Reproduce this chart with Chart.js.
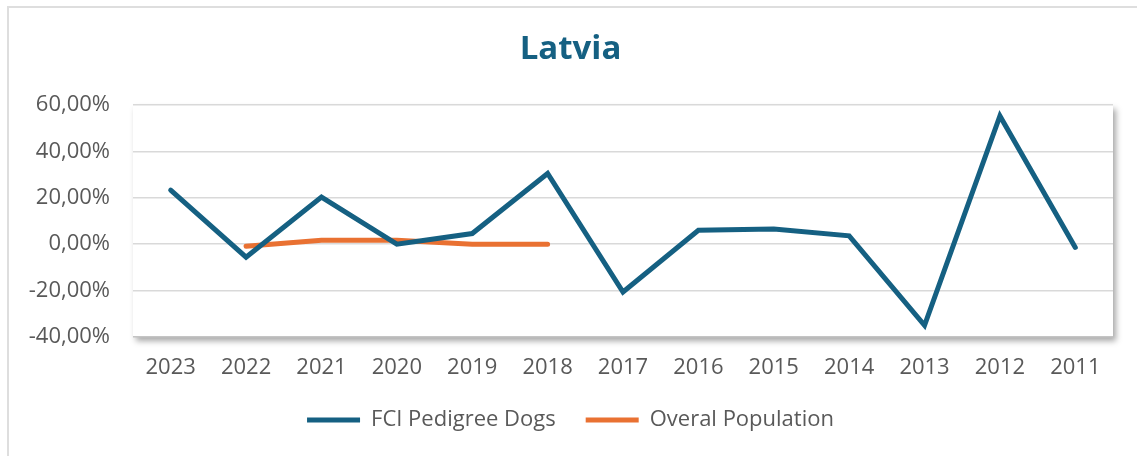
<!DOCTYPE html>
<html>
<head>
<meta charset="utf-8">
<script src="https://cdn.jsdelivr.net/npm/chart.js@4.4.1/dist/chart.umd.min.js"></script>
<style>
  html, body { margin: 0; padding: 0; background: #fff; }
  #frame { position: absolute; left: 7px; top: 6px; width: 1140px; height: 460px;
           border-left: 2px solid #dedede; border-top: 2px solid #dedede; }
  #wrap { position: absolute; left: 0; top: 0; width: 1137px; height: 456px; }
</style>
</head>
<body>
<div id="frame"></div>
<div id="wrap"><canvas id="myChart" width="1137" height="456"></canvas></div>
<script>
const years = ['2023', '2022', '2021', '2020', '2019', '2018', '2017', '2016', '2015', '2014', '2013', '2012', '2011']
const pedigreeDogs = [23.3, -5.6, 20.3, 0.0, 4.6, 30.5, -20.6, 6.0, 6.5, 3.6, -35.0, 55.3, -1.4]
const overalPopulation = [null, -0.9, 1.7, 1.7, 0.0, 0.0, null, null, null, null, null, null, null]

const blue = '#156082'
const orange = '#E97132'
const grey = '#595959'
const fontFamily = 'Open Sans'

// white plot area with the soft shadow Excel puts on it
const plotShadow = {
  id: 'plotShadow',
  beforeDraw(chart) {
    const { ctx, chartArea } = chart
    ctx.save()
    ctx.shadowColor = 'rgba(0,0,0,0.35)'
    ctx.shadowBlur = 6
    ctx.shadowOffsetX = 3
    ctx.shadowOffsetY = 4
    ctx.fillStyle = '#fff'
    ctx.fillRect(chartArea.left, chartArea.top, chartArea.right - chartArea.left, chartArea.bottom - chartArea.top)
    ctx.restore()
  }
}

const fmt = (v) => v.toFixed(2).replace('.', ',') + '%'

const data = {
  labels: years,
  datasets: [{
    label: 'FCI Pedigree Dogs',
    data: pedigreeDogs,
    borderColor: blue,
    backgroundColor: blue,
    borderWidth: 5,
    borderCapStyle: 'round',
    pointRadius: 0,
    pointStyle: 'line',
    tension: 0
  }, {
    label: 'Overal Population',
    data: overalPopulation,
    borderColor: orange,
    backgroundColor: orange,
    borderWidth: 5,
    borderCapStyle: 'round',
    pointRadius: 0,
    pointStyle: 'line',
    spanGaps: false,
    tension: 0
  }]
}

const config = {
  type: 'line',
  data: data,
  plugins: [plotShadow],
  options: {
    responsive: false,
    animation: false,
    layout: { padding: { left: 28, right: 24, top: 0, bottom: 15 } },
    plugins: {
      title: {
        display: true,
        text: 'Latvia',
        color: blue,
        font: { family: fontFamily, size: 33, weight: 'bold' },
        padding: { top: 30, bottom: 35.4 }
      },
      legend: {
        position: 'bottom',
        labels: {
          usePointStyle: true,
          pointStyleWidth: 53,
          color: grey,
          padding: 30,
          font: { family: fontFamily, size: 22 }
        }
      },
      tooltip: { enabled: false }
    },
    scales: {
      x: {
        offset: true,
        grid: { display: false, drawTicks: false },
        border: { display: false },
        ticks: { color: grey, padding: 18, font: { family: fontFamily, size: 22 }, maxRotation: 0 },
        afterFit: (scale) => { scale.height = 42 }
      },
      y: {
        min: -40,
        max: 60,
        grid: {
          drawTicks: false,
          lineWidth: 1.5,
          color: (c) => c.tick && c.tick.value === -40 ? '#c4c4c4' : '#d9d9d9'
        },
        border: { display: false },
        ticks: {
          stepSize: 20,
          color: grey,
          padding: 23,
          font: { family: fontFamily, size: 22 },
          callback: (v) => fmt(v)
        },
        afterFit: (scale) => { scale.width = 105 }
      }
    }
  }
}

const myChart = new Chart(document.getElementById('myChart'), config)
</script>
</body>
</html>
